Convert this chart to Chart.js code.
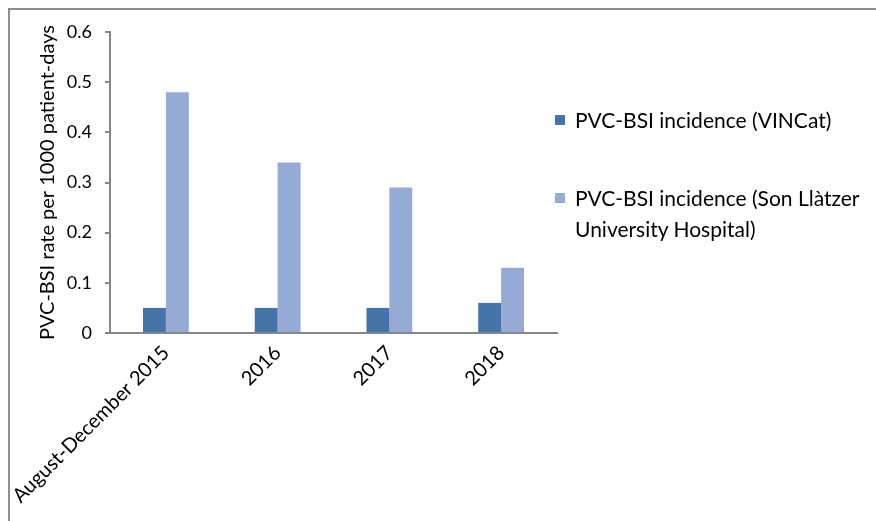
<!DOCTYPE html>
<html>
<head>
<meta charset="utf-8">
<script src="https://cdn.jsdelivr.net/npm/chart.js@4.4.1/dist/chart.umd.min.js"></script>
<style>
  html, body { margin: 0; padding: 0; background: #fff; }
  #wrap { position: relative; width: 876px; height: 521px; overflow: hidden; }
  #frame { position: absolute; left: 8px; top: 8px; width: 900px; height: 600px; border: 2px solid #8e8e8e; }
  #myChart { position: absolute; left: 0; top: 0; }
  #legend { position: absolute; left: 555px; top: 104px; font-family: Lato, sans-serif; font-size: 21px; color: #000; }
  .item { position: relative; padding-left: 20px; line-height: 31px; width: 330px; white-space: nowrap; }
  .box { position: absolute; left: 0; top: 11px; width: 10px; height: 10px; }
</style>
</head>
<body>
<div id="wrap">
  <div id="frame"></div>
  <canvas id="myChart" width="876" height="521"></canvas>
  <div id="legend"></div>
</div>
<script>
// datos
const categorias = ['August-December 2015', '2016', '2017', '2018']
const vincat = [0.05, 0.05, 0.05, 0.06]
const sonLlatzer = [0.48, 0.34, 0.29, 0.13]
const yTicks = [0, 0.1, 0.2, 0.3, 0.4, 0.5, 0.6]

const azulOscuro = '#4674a9'
const azulClaro = '#95abd3'
const gris = '#868686'

const ctx = document.getElementById('myChart').getContext('2d')

const myChart = new Chart(ctx, {
    type: 'bar',
    data: {
        labels: categorias,
        datasets: [{
            label: 'PVC-BSI incidence (VINCat)',
            data: vincat,
            backgroundColor: azulOscuro,
            categoryPercentage: 0.41,
            barPercentage: 1
        },
        {
            label: 'PVC-BSI incidence (Son Llàtzer University Hospital)',
            data: sonLlatzer,
            backgroundColor: azulClaro,
            categoryPercentage: 0.41,
            barPercentage: 1
        }]
    },
    options: {
        responsive: false,
        animation: false,
        layout: { padding: { left: 20, right: 319, top: 32, bottom: 0 } },
        plugins: {
            legend: { display: false },
            tooltip: { enabled: false }
        },
        scales: {
            x: {
                grid: { display: false },
                border: { color: gris, width: 2 },
                ticks: {
                    color: '#000',
                    font: { family: 'Lato', size: 20 },
                    minRotation: 45,
                    maxRotation: 45,
                    padding: 0
                },
                afterFit: scale => { scale.height = 521 - 333 }
            },
            y: {
                min: 0,
                max: 0.6,
                afterBuildTicks: scale => { scale.ticks = yTicks.map(v => ({ value: v })) },
                grid: { drawOnChartArea: false, color: gris, lineWidth: 2, tickLength: 5 },
                border: { color: gris, width: 2 },
                ticks: {
                    color: '#000',
                    font: { family: 'Lato', size: 18 },
                    padding: 13,
                    callback: v => String(Math.round(v * 10) / 10)
                },
                title: {
                    display: true,
                    text: 'PVC-BSI rate per 1000 patient-days',
                    color: '#000',
                    font: { family: 'Lato', size: 20 },
                    padding: { top: 16, bottom: 0 }
                },
                afterFit: scale => { scale.width = 110 - 20 }
            }
        }
    }
})

// leyenda en html
const legend = document.getElementById('legend')
legend.innerHTML = myChart.data.datasets.map((d, i) => {
    const txt = i === 1 ? 'PVC-BSI incidence (Son Llàtzer<br>University Hospital)' : d.label
    return `<div class="item" style="margin-bottom:${i === 0 ? 47 : 0}px">
                <span class="box" style="background:${d.backgroundColor}"></span>${txt}
            </div>`
}).join('')
</script>
</body>
</html>
